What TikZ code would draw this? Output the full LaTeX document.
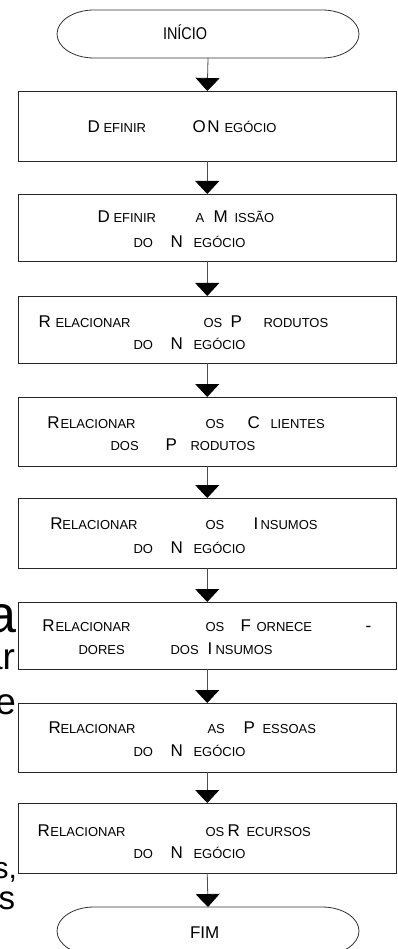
\documentclass[tikz,border=0pt]{standalone}
\usepackage{fontspec}
\setmainfont{Liberation Sans}
\usetikzlibrary{arrows.meta}
\newcommand\Bi{\fontsize{17}{17}\selectfont}
\newcommand\Sc{\fontsize{13}{13}\selectfont}
\newcommand\pc[2]{\rlap{\hspace*{#1pt}#2}}
\tikzset{
  procbox/.style={draw=black!85, line width=0.9pt, minimum width=378.5pt, inner sep=0pt, outer sep=0pt},
  termnode/.style={draw=none, minimum width=302pt, minimum height=48pt, inner sep=0pt, outer sep=0pt},
  termline/.style={draw=black!80, line width=0.8pt},
  conn/.style={draw=black!70, line width=0.8pt, -{Triangle[width=24pt,length=13pt,black]}},
  txt/.style={anchor=base west, inner sep=0pt, outer sep=0pt},
  bgtxt/.style={anchor=base east, inner sep=0pt, outer sep=0pt}
}
\begin{document}
\begin{tikzpicture}[x=1pt,y=-1pt]
\useasboundingbox (0,0) rectangle (398,949);
\clip (0,0) rectangle (398,949);
\fill[white] (0,0) rectangle (398,949);

% terminators
\node[termnode] (start) at (208,34) {};
\draw[termline] ([xshift=-37pt]start.north east) arc[start angle=90,end angle=-90,x radius=37pt,y radius=24pt]
  -- ([xshift=37pt]start.south west) arc[start angle=270,end angle=90,x radius=37pt,y radius=24pt] -- cycle;
\node[txt] (tstart) at (163,40) {\scalebox{0.85}[1]{\Bi INÍCIO}};

\node[termnode] (fim) at (208,931) {};
\draw[termline] ([xshift=-37pt]fim.north east) arc[start angle=90,end angle=-90,x radius=37pt,y radius=24pt]
  -- ([xshift=37pt]fim.south west) arc[start angle=270,end angle=90,x radius=37pt,y radius=24pt] -- cycle;
\node[txt] (tfim) at (190,938) {\Bi FIM};

% process boxes
\node[procbox, minimum height=70pt] (b1) at (207.25,126) {};
\node[procbox, minimum height=67pt] (b2) at (207.25,227.5) {};
\node[procbox, minimum height=67pt] (b3) at (207.25,329.5) {};
\node[procbox, minimum height=69pt] (b4) at (207.25,431.5) {};
\node[procbox, minimum height=70pt] (b5) at (207.25,533) {};
\node[procbox, minimum height=67pt] (b6) at (207.25,635.5) {};
\node[procbox, minimum height=69pt] (b7) at (207.25,737.5) {};
\node[procbox, minimum height=70pt] (b8) at (207.25,838) {};

% texts
\node[txt] (t1) at (0,133) {\pc{87}{\Bi D}\pc{103}{\Sc EFINIR}\pc{192}{\Bi O}\pc{207}{\Bi N}\pc{224}{\Sc EGÓCIO}};

\node[txt] (t2a) at (0,223) {\pc{97}{\Bi D}\pc{113}{\Sc EFINIR}\pc{195}{\Sc A}\pc{213}{\Bi M}\pc{234}{\Sc ISSÃO}};
\node[txt] (t2b) at (0,248) {\pc{133}{\Sc DO}\pc{170}{\Bi N}\pc{193}{\Sc EGÓCIO}};

\node[txt] (t3a) at (0,327) {\pc{38}{\Bi R}\pc{55}{\Sc ELACIONAR}\pc{203}{\Sc OS}\pc{230}{\Bi P}\pc{263}{\Sc RODUTOS}};
\node[txt] (t3b) at (0,349) {\pc{133}{\Sc DO}\pc{170}{\Bi N}\pc{193}{\Sc EGÓCIO}};

\node[txt] (t4a) at (0,428) {\pc{47}{\Bi R}\pc{60}{\Sc ELACIONAR}\pc{205}{\Sc OS}\pc{247}{\Bi C}\pc{270}{\Sc LIENTES}};
\node[txt] (t4b) at (0,450) {\pc{110}{\Sc DOS}\pc{165}{\Bi P}\pc{190}{\Sc RODUTOS}};

\node[txt] (t5a) at (0,529) {\pc{50}{\Bi R}\pc{62}{\Sc ELACIONAR}\pc{205}{\Sc OS}\pc{253}{\Bi I}\pc{260}{\Sc NSUMOS}};
\node[txt] (t5b) at (0,553) {\pc{133}{\Sc DO}\pc{170}{\Bi N}\pc{193}{\Sc EGÓCIO}};

\node[txt] (t6a) at (0,631) {\pc{42}{\Bi R}\pc{55}{\Sc ELACIONAR}\pc{205}{\Sc OS}\pc{240}{\Bi F}\pc{256}{\Sc ORNECE}\pc{365}{\Bi -}};
\node[txt] (t6b) at (0,654) {\pc{78}{\Sc DORES}\pc{170}{\Sc DOS}\pc{207}{\Bi I}\pc{215}{\Sc NSUMOS}};

\node[txt] (t7a) at (0,733) {\pc{48}{\Bi R}\pc{60}{\Sc ELACIONAR}\pc{207}{\Sc AS}\pc{243}{\Bi P}\pc{262}{\Sc ESSOAS}};
\node[txt] (t7b) at (0,756) {\pc{133}{\Sc DO}\pc{170}{\Bi N}\pc{193}{\Sc EGÓCIO}};

\node[txt] (t8a) at (0,836) {\pc{37}{\Bi R}\pc{50}{\Sc ELACIONAR}\pc{205}{\Sc OS}\pc{227}{\Bi R}\pc{246}{\Sc ECURSOS}};
\node[txt] (t8b) at (0,858) {\pc{133}{\Sc DO}\pc{170}{\Bi N}\pc{193}{\Sc EGÓCIO}};

% connectors
\draw[conn] (start.south) -- (b1.north);
\draw[conn] (b1.south) -- (b2.north);
\draw[conn] (b2.south) -- (b3.north);
\draw[conn] (b3.south) -- (b4.north);
\draw[conn] (b4.south) -- (b5.north);
\draw[conn] (b5.south) -- (b6.north);
\draw[conn] (b6.south) -- (b7.north);
\draw[conn] (b7.south) -- (b8.north);
\draw[conn] (b8.south) -- (fim.north);

% background text fragments at left edge
\node[bgtxt, font=\fontsize{52}{52}\selectfont] (g1) at (16,632) {a};
\node[bgtxt, font=\fontsize{37}{37}\selectfont] (g2) at (15,669) {ar};
\node[bgtxt, font=\fontsize{37}{37}\selectfont] (g3) at (16,714) {e};
\node[bgtxt, font=\fontsize{30}{30}\selectfont] (g4) at (17,878) {s,};
\node[bgtxt, font=\fontsize{33}{33}\selectfont] (g5) at (15,909) {s};
\end{tikzpicture}
\end{document}
